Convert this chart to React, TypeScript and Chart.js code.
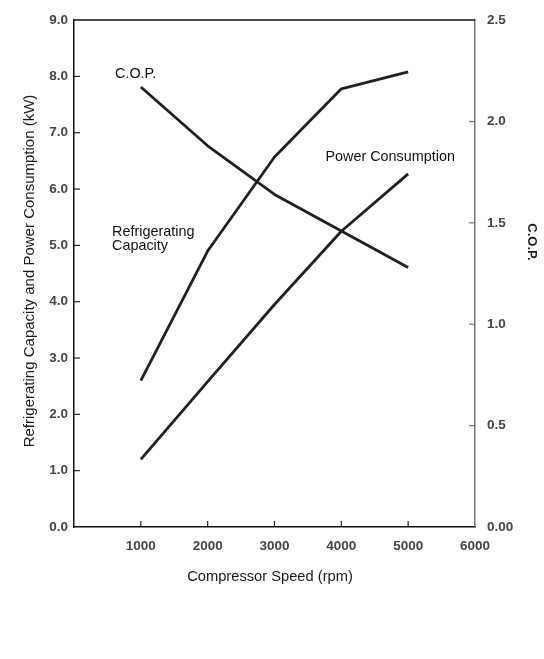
import React, { useEffect, useRef } from "react";
import { Chart, registerables } from "chart.js";

Chart.register(...registerables);

const speeds = [1000, 2000, 3000, 4000, 5000];
const refrigeratingCapacity = [2.6, 4.9, 6.57, 7.78, 8.08];
const powerConsumption = [1.2, 2.58, 3.95, 5.25, 6.27];
const cop = [2.17, 1.88, 1.64, 1.46, 1.28];

const xTitle = "Compressor Speed (rpm)";
const yTitle = "Refrigerating Capacity and Power Consumption (kW)";
const y1Title = "C.O.P.";
const annotations = [
  { lines: ["C.O.P."] },
  { lines: ["Power Consumption"] },
  { lines: ["Refrigerating", "Capacity"] },
];

const FONT = '"Liberation Sans", Arial, Helvetica, sans-serif';
const LINE = "#231f20";

const decorPlugin = {
  id: "decor",
  afterDraw(chart: any) {
    const ctx = chart.ctx;
    const { left, right, top, bottom } = chart.chartArea;
    const x = chart.scales.x;
    const y = chart.scales.y;
    const y1 = chart.scales.y1;
    ctx.save();
    ctx.strokeStyle = "#111";
    ctx.lineWidth = 1.5;
    ctx.beginPath();
    ctx.moveTo(left, top);
    ctx.lineTo(right, top);
    ctx.stroke();
    const tl = 6;
    ctx.lineWidth = 1.2;
    ctx.strokeStyle = "#222";
    x.ticks.forEach((t: any) => {
      if (t.value <= x.min || t.value >= x.max) return;
      const px = x.getPixelForValue(t.value);
      ctx.beginPath();
      ctx.moveTo(px, bottom);
      ctx.lineTo(px, bottom - tl);
      ctx.stroke();
    });
    y.ticks.forEach((t: any) => {
      if (t.value <= y.min || t.value >= y.max) return;
      const py = y.getPixelForValue(t.value);
      ctx.beginPath();
      ctx.moveTo(left, py);
      ctx.lineTo(left + tl, py);
      ctx.stroke();
    });
    ctx.strokeStyle = "#777";
    y1.ticks.forEach((t: any) => {
      if (t.value <= y1.min || t.value >= y1.max) return;
      const py = y1.getPixelForValue(t.value);
      ctx.beginPath();
      ctx.moveTo(right, py);
      ctx.lineTo(right - tl, py);
      ctx.stroke();
    });
    ctx.fillStyle = "#1a1a1a";
    ctx.textAlign = "center";
    ctx.textBaseline = "middle";
    ctx.font = `14.7px ${FONT}`;
    ctx.fillText(xTitle, 270, 577);
    ctx.save();
    ctx.translate(30, 271);
    ctx.rotate(-Math.PI / 2);
    ctx.font = `15px ${FONT}`;
    ctx.fillText(yTitle, 0, 0);
    ctx.restore();
    ctx.save();
    ctx.translate(532, 242);
    ctx.rotate(Math.PI / 2);
    ctx.font = `bold 13px ${FONT}`;
    ctx.fillText(y1Title, 0, 0);
    ctx.restore();
    ctx.font = `14.4px ${FONT}`;
    ctx.fillStyle = "#111";
    ctx.textBaseline = "alphabetic";
    const pos = [
      { x: 115, y: 78, align: "left" },
      { x: 455, y: 161, align: "right" },
      { x: 112, y: 236, align: "left" },
    ];
    annotations.forEach((a, i) => {
      const p = pos[i];
      ctx.textAlign = p.align as CanvasTextAlign;
      a.lines.forEach((ln, j) => ctx.fillText(ln, p.x, p.y + j * 13.5));
    });
    ctx.restore();
  },
};

export default function App() {
  const ref = useRef<HTMLCanvasElement>(null);
  useEffect(() => {
    if (!ref.current) return;
    const mk = (vals: number[]) => speeds.map((s, i) => ({ x: s, y: vals[i] }));
    const ds = (data: any, axis: string) => ({
      data,
      yAxisID: axis,
      borderColor: LINE,
      borderWidth: 2.8,
      pointRadius: 0,
      fill: false,
      tension: 0,
      borderJoinStyle: "round" as const,
    });
    const tickFont = { family: FONT, size: 13.5, weight: "bold" as const };
    const chart = new Chart(ref.current, {
      type: "line",
      data: {
        datasets: [
          ds(mk(refrigeratingCapacity), "y"),
          ds(mk(powerConsumption), "y"),
          ds(mk(cop), "y1"),
        ],
      },
      options: {
        responsive: false,
        animation: false,
        layout: { padding: { top: 20, left: 0, right: 0, bottom: 0 } },
        plugins: { legend: { display: false }, tooltip: { enabled: false } },
        scales: {
          x: {
            type: "linear",
            min: 0,
            max: 6000,
            grid: { display: false, drawTicks: false },
            border: { display: true, color: "#111", width: 1.5 },
            ticks: {
              stepSize: 1000,
              padding: 11,
              color: "#444",
              font: tickFont,
              maxRotation: 0,
              callback: (v: any) => (v === 0 ? "" : String(v)),
            },
            afterFit: (s: any) => {
              s.height = 659 - 527;
            },
          },
          y: {
            position: "left",
            min: 0,
            max: 9,
            grid: { display: false, drawTicks: false },
            border: { display: true, color: "#111", width: 1.5 },
            ticks: {
              stepSize: 1,
              padding: 6,
              color: "#444",
              font: tickFont,
              callback: (v: any) => Number(v).toFixed(1),
            },
            afterFit: (s: any) => {
              s.width = 74;
            },
          },
          y1: {
            position: "right",
            min: 0,
            max: 2.5,
            grid: { display: false, drawTicks: false },
            border: { display: true, color: "#777", width: 1.5 },
            ticks: {
              stepSize: 0.5,
              padding: 12,
              color: "#444",
              font: tickFont,
              callback: (v: any) => (v === 0 ? "0.00" : Number(v).toFixed(1)),
            },
            afterFit: (s: any) => {
              s.width = 544 - 475;
            },
          },
        },
      },
      plugins: [decorPlugin],
    });
    return () => chart.destroy();
  }, []);
  return (
    <div style={{ position: "absolute", left: 0, top: 0, width: 544, height: 659, background: "#fff" }}>
      <canvas ref={ref} width={544} height={659} />
    </div>
  );
}
